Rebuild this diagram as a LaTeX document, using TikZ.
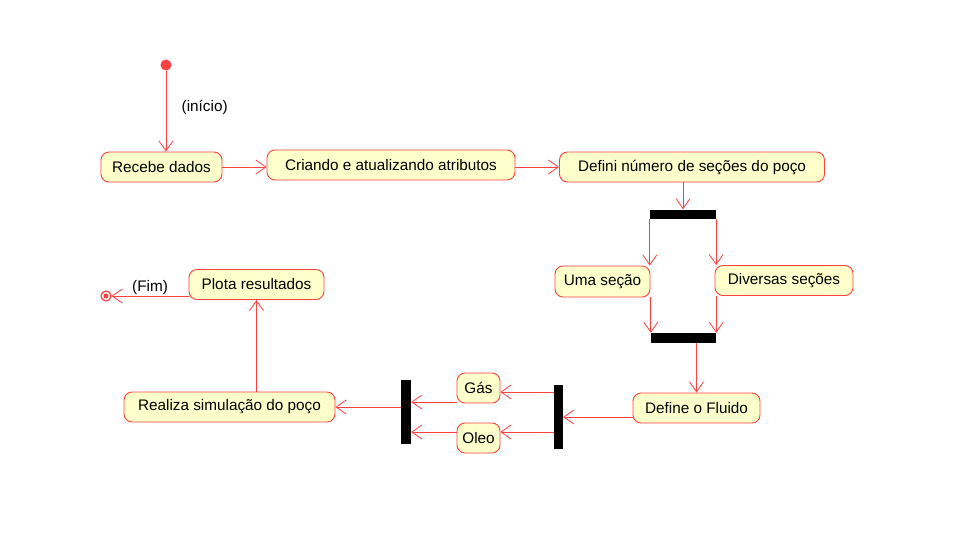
\documentclass[tikz,border=0pt]{standalone}
\usepackage{fontspec}
\setmainfont{Liberation Sans}
\usetikzlibrary{arrows.meta}
\definecolor{umlred}{RGB}{255,64,64}
\definecolor{umlfill}{RGB}{255,255,204}

\begin{document}
\begin{tikzpicture}[
    x=1pt, y=-1pt,
    box/.style={draw=umlred, fill=umlfill, line width=0.9pt, rounded corners=8pt, minimum height=30pt, inner sep=0pt, font=\fontsize{15.3}{18}\selectfont},
    bar/.style={fill=black, inner sep=0pt},
    arrow/.style={-{Straight Barb[length=10pt, width=14pt]}, draw=umlred, line width=0.8pt},
    lbl/.style={font=\fontsize{15.3}{18}\selectfont, text=black},
]
\useasboundingbox (0,0) rectangle (955,542);

% Start
\node[circle, fill=umlred, inner sep=0pt, minimum size=11pt] (start) at (166,65) {};

% Top row
\node[box, minimum width=121pt] (recebe) at (161.5,167) {Recebe dados};
\draw[arrow] (start) -- node[lbl, right=12pt, pos=0.45] {(início)} (start |- recebe.north);

\node[box, minimum width=248pt] (criando) at (391,165) {Criando e atualizando atributos};
\draw[arrow] (recebe.east) -- (recebe.east -| criando.west);

\node[box, minimum width=265pt] (defini) at (692,167) {Defini número de seções do poço};
\draw[arrow] (criando.east |- defini.west) -- (defini.west);

% Sections fork
\node[bar, minimum width=66pt, minimum height=9pt] (fork1) at (683,214) {};
\draw[arrow] (defini.south -| fork1.north) -- (fork1.north);

\node[box, minimum width=95pt, minimum height=31pt] (uma) at (602.5,281.5) {Uma seção};
\node[box, minimum width=138pt] (diversas) at (784,280.5) {Diversas seções};
\draw[arrow] (fork1.south west) -- (fork1.south west |- uma.north);
\draw[arrow] (fork1.south east) -- (fork1.south east |- diversas.north);

% Sections join
\node[bar, minimum width=65pt, minimum height=10pt] (join1) at (683.5,338) {};
\draw[arrow] (join1.north west |- uma.south) -- (join1.north west);
\draw[arrow] (join1.north east |- diversas.south) -- (join1.north east);

% Fluid
\node[box, minimum width=127pt] (fluido) at (696.5,408) {Define o Fluido};
\draw[arrow] (fluido.north |- join1.south) -- (fluido.north);

\node[bar, minimum width=9pt, minimum height=64pt] (fork2) at (558.5,417) {};
\draw[arrow] (fork2.east -| fluido.west) -- (fork2.east);

\node[box, minimum width=43pt] (gas) at (478.5,388) {Gás};
\node[box, minimum width=43pt] (oleo) at (478.5,438) {Oleo};
\draw[arrow] ([yshift=-4pt]fork2.west |- gas.east) -- ([yshift=-4pt]gas.east);
\draw[arrow] ([yshift=6pt]fork2.west |- oleo.east) -- ([yshift=6pt]oleo.east);

\node[bar, minimum width=10pt, minimum height=64pt] (join2) at (406,412) {};
\draw[arrow] ([yshift=-14pt]gas.west) -- ([yshift=-14pt]join2.east |- gas.west);
\draw[arrow] ([yshift=6pt]oleo.west) -- ([yshift=6pt]join2.east |- oleo.west);

% Simulation and results
\node[box, minimum width=211pt] (realiza) at (229.5,407) {Realiza simulação do poço};
\draw[arrow] (join2.west |- realiza.east) -- (realiza.east);

\node[box, minimum width=135pt] (plota) at (256.5,284.5) {Plota resultados};
\draw[arrow] (plota.south |- realiza.north) -- (plota.south);

% End
\node[circle, draw=umlred, line width=1.2pt, fill=white, inner sep=0pt, minimum size=10pt] (fim) at (106,296) {};
\fill[umlred] (fim) circle (2.5);
\draw[arrow] (fim -| plota.west) -- node[lbl, above, inner sep=1pt] {(Fim)} (fim);

\end{tikzpicture}
\end{document}
